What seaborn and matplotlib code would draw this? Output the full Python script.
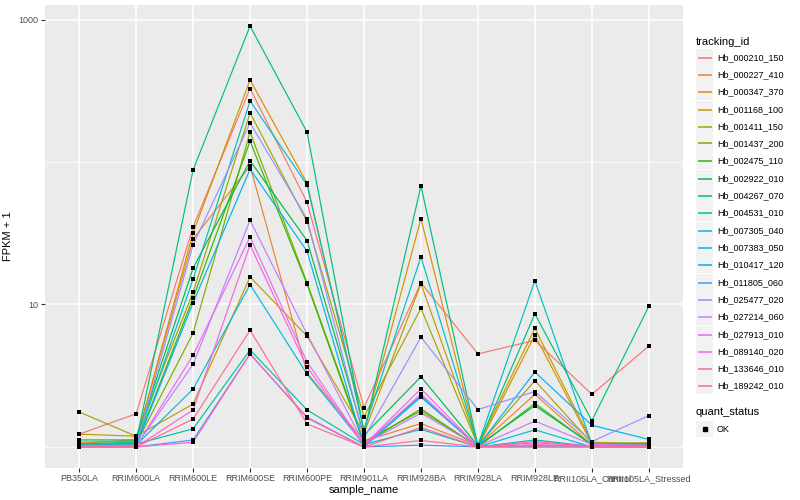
import numpy as np
import pandas as pd
import matplotlib
matplotlib.use('Agg')
import matplotlib.pyplot as plt
import seaborn as sns
from matplotlib.lines import Line2D
from matplotlib.patches import Rectangle
from matplotlib.ticker import FixedLocator, NullFormatter

# samples on the x axis, in plot order
samples = ['PB350LA', 'RRIM600LA', 'RRIM600LE', 'RRIM600SE', 'RRIM600PE', 'RRIM901LA',
           'RRIM928BA', 'RRIM928LA', 'RRIM928LE', 'RRII105LA_Control', 'RRII105LA_Stressed']

tracking_ids = ['Hb_000210_150', 'Hb_000227_410', 'Hb_000347_370', 'Hb_001168_100',
                'Hb_001411_150', 'Hb_001437_200', 'Hb_002475_110', 'Hb_002922_010',
                'Hb_004267_070', 'Hb_004531_010', 'Hb_007305_040', 'Hb_007383_050',
                'Hb_010417_120', 'Hb_011805_060', 'Hb_025477_020', 'Hb_027214_060',
                'Hb_027913_010', 'Hb_089140_020', 'Hb_133646_010', 'Hb_189242_010']

# FPKM + 1 per gene, one value per sample
hb_000210_150 = [1.23, 1.71, 35.0, 328, 52.0, 1.89, 14.2, 4.5, 5.6, 2.34, 5.1]
hb_000227_410 = [1.06, 1.12, 28.8, 94, 3.3, 1.10, 1.46, 1.02, 2.34, 1.03, 1.04]
hb_000347_370 = [1.08, 1.10, 31.8, 376, 71.0, 1.30, 40.0, 1.00, 6.1, 1.05, 1.06]
hb_001168_100 = [1.23, 1.19, 2.0, 15.6, 6.0, 1.25, 14.0, 1.03, 6.8, 1.08, 1.05]
hb_001411_150 = [1.76, 1.19, 12.2, 221, 38.2, 1.63, 9.4, 1.02, 2.92, 1.06, 1.07]
hb_001437_200 = [1.03, 1.05, 6.3, 162, 14.2, 1.09, 1.79, 1.01, 1.02, 1.02, 1.03]
hb_002475_110 = [1.02, 1.04, 11.1, 140, 13.9, 1.05, 1.85, 1.00, 2.02, 1.03, 1.02]
hb_002922_010 = [1.12, 1.12, 18.0, 102, 28.1, 1.21, 3.11, 1.02, 1.95, 1.04, 1.05]
hb_004267_070 = [1.05, 1.08, 88.0, 900, 162, 1.26, 68.0, 1.02, 8.6, 1.53, 9.7]
hb_004531_010 = [1.03, 1.05, 1.34, 4.8, 1.82, 1.04, 1.33, 1.00, 1.12, 1.01, 1.02]
hb_007305_040 = [1.04, 1.06, 15.1, 268, 69.0, 1.32, 21.6, 1.03, 14.7, 1.04, 1.03]
hb_007383_050 = [1.02, 1.03, 2.55, 13.8, 3.25, 1.04, 2.28, 1.00, 1.32, 1.00, 1.01]
hb_010417_120 = [1.01, 1.02, 10.3, 89, 23.7, 1.00, 2.24, 1.01, 3.36, 1.42, 1.13]
hb_011805_060 = [1.00, 1.00, 1.12, 4.5, 1.60, 1.00, 1.03, 1.00, 1.00, 1.00, 1.00]
hb_025477_020 = [1.02, 1.03, 26.2, 188, 39.8, 1.15, 5.9, 1.83, 2.45, 1.09, 1.66]
hb_027214_060 = [1.01, 1.02, 3.8, 39.0, 6.2, 1.05, 1.73, 1.01, 1.52, 1.04, 1.03]
hb_027913_010 = [1.00, 1.01, 4.4, 29.8, 3.95, 1.03, 2.56, 1.00, 1.07, 1.02, 1.01]
hb_089140_020 = [1.00, 1.00, 1.82, 26.2, 3.64, 1.02, 2.35, 1.00, 1.04, 1.01, 1.00]
hb_133646_010 = [1.00, 1.00, 1.08, 4.5, 1.62, 1.00, 1.37, 1.00, 1.09, 1.00, 1.00]
hb_189242_010 = [1.00, 1.00, 1.57, 6.6, 1.45, 1.00, 1.11, 1.00, 1.00, 1.00, 1.00]

series = [hb_000210_150, hb_000227_410, hb_000347_370, hb_001168_100, hb_001411_150,
          hb_001437_200, hb_002475_110, hb_002922_010, hb_004267_070, hb_004531_010,
          hb_007305_040, hb_007383_050, hb_010417_120, hb_011805_060, hb_025477_020,
          hb_027214_060, hb_027913_010, hb_089140_020, hb_133646_010, hb_189242_010]

# ggplot2 default hue palette for 20 levels
gg_colors = ['#F8766D', '#EA8331', '#D89000', '#C09B00', '#A3A500', '#7CAE00', '#39B600',
             '#00BB4E', '#00BF7D', '#00C1A3', '#00BFC4', '#00BAE0', '#00B0F6', '#35A2FF',
             '#9590FF', '#C77CFF', '#E76BF3', '#FA62DB', '#FF62BC', '#FF6C91']

rows = []
for tid, vals in zip(tracking_ids, series):
    for s, v in zip(samples, vals):
        rows.append({'tracking_id': tid, 'sample_name': s, 'fpkm1': v, 'quant_status': 'OK'})
df = pd.DataFrame(rows)

plt.rcParams['font.family'] = ['Liberation Sans', 'DejaVu Sans']

W, H = 800, 500
fig = plt.figure(figsize=(8, 5), dpi=100)
ax = fig.add_axes([45 / W, 32 / H, 638 / W, 463 / H])
ax.set_facecolor('#EBEBEB')
for sp in ax.spines.values():
    sp.set_visible(False)

sns.lineplot(data=df, x='sample_name', y='fpkm1', hue='tracking_id',
             palette=dict(zip(tracking_ids, gg_colors)), sort=False,
             estimator=None, legend=False, lw=0.85, ax=ax)
sns.scatterplot(data=df, x='sample_name', y='fpkm1', color='black', s=12,
                marker='s', linewidth=0, legend=False, zorder=5, ax=ax)

ax.set_yscale('log')
lo, hi = np.log10(df['fpkm1'].min()), np.log10(df['fpkm1'].max())
pad = (hi - lo) * 0.05
ax.set_ylim(10 ** (lo - pad), 10 ** (hi + pad))
ax.set_xlim(-0.6, len(samples) - 0.4)

ax.yaxis.set_major_locator(FixedLocator([10, 1000]))
ax.yaxis.set_major_formatter(plt.FuncFormatter(lambda v, p: f'{v:g}'))
ax.yaxis.set_minor_locator(FixedLocator([1, 100]))
ax.yaxis.set_minor_formatter(NullFormatter())
ax.set_axisbelow(True)
ax.grid(which='major', color='white', lw=1.1)
ax.grid(which='minor', axis='y', color='white', lw=0.55)
ax.tick_params(which='minor', length=0)
ax.tick_params(which='major', length=3, width=0.8, color='#333333',
               labelsize=6.5, labelcolor='#4D4D4D', pad=1.5)

ax.set_xlabel('sample_name', fontsize=8, labelpad=1)
ax.set_ylabel('FPKM + 1', fontsize=8, labelpad=4)


def px(x, y):
    return x / W, 1 - y / H


# legend: tracking_id
fig.text(*px(696, 42), 'tracking_id', fontsize=8, va='center', ha='left')
key_h = 17.3
for i, (tid, col) in enumerate(zip(tracking_ids, gg_colors)):
    yc = round(56.7 + i * key_h) + 0.5
    x0, y0 = px(696, yc + key_h / 2 - 0.5)
    fig.patches.append(Rectangle((x0, y0), 16.5 / W, (key_h - 1) / H, transform=fig.transFigure,
                                 facecolor='#F2F2F2', edgecolor='none', zorder=1))
    xa, ya = px(698, yc)
    xb, _ = px(712, yc)
    fig.lines.append(Line2D([xa, xb], [ya, ya], transform=fig.transFigure, color=col,
                            lw=1.1, zorder=3, solid_capstyle='butt'))
    fig.text(*px(717, yc), tid, fontsize=6.5, va='center', ha='left')

# legend: quant_status
fig.text(*px(696, 412), 'quant_status', fontsize=8, va='center', ha='left')
x0, y0 = px(696, 429 + key_h / 2 - 0.5)
fig.patches.append(Rectangle((x0, y0), 16.5 / W, (key_h - 1) / H, transform=fig.transFigure,
                             facecolor='#F2F2F2', edgecolor='none', zorder=1))
xm, ym = px(704.5, 429)
fig.lines.append(Line2D([xm], [ym], transform=fig.transFigure, marker='s', ms=3.2,
                        color='black', lw=0, zorder=3))
fig.text(*px(717, 429), 'OK', fontsize=6.5, va='center', ha='left')

fig.savefig('out.png', dpi=100)
